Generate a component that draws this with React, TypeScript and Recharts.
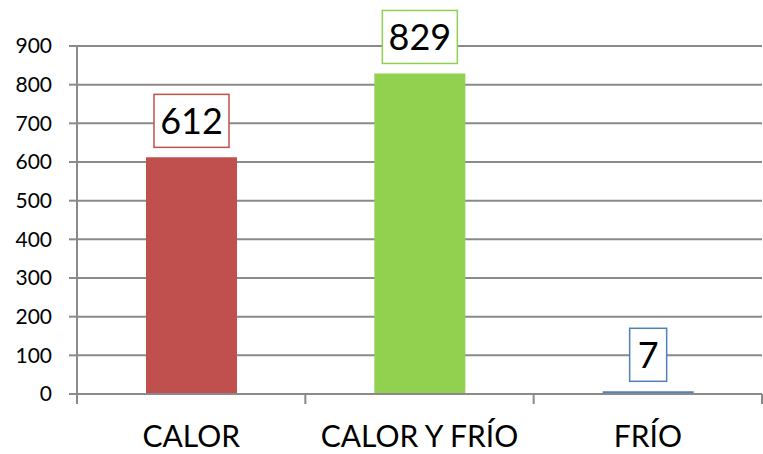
import { Bar, BarChart, CartesianGrid, Cell, LabelList, XAxis, YAxis } from "recharts";

const categories = ["CALOR", "CALOR Y FRÍO", "FRÍO"];
const counts = [612, 829, 7];
const barColors = ["#C0504D", "#92D050", "#4F81BD"];
const yTicks = [0, 100, 200, 300, 400, 500, 600, 700, 800, 900];

const rows = categories.map((name, i) => ({ name, value: counts[i], color: barColors[i] }));

const font = "Lato, 'Open Sans', sans-serif";
const gridColor = "#8A8A8A";

function CategoryTick(props: any) {
  const { x, y, payload, index } = props;
  const half = payload?.offset || 114;
  const last = index === categories.length - 1;
  return (
    <g>
      <line x1={x - half} x2={x - half} y1={y} y2={y + 10} stroke={gridColor} strokeWidth={2} />
      {last && <line x1={x + half} x2={x + half} y1={y} y2={y + 10} stroke={gridColor} strokeWidth={2} />}
      <text x={x} y={y + 53} textAnchor="middle" fontFamily={font} fontSize={30} fill="#000">
        {payload.value}
      </text>
    </g>
  );
}

function BoxLabel(props: any) {
  const { x, y, width, value, index } = props;
  const digits = String(value).length;
  const boxW = digits * 19 + 18;
  const boxH = 53;
  const cx = x + width / 2;
  const bottom = y - 10;
  return (
    <g>
      <rect
        x={cx - boxW / 2}
        y={bottom - boxH}
        width={boxW}
        height={boxH}
        fill="#fff"
        stroke={barColors[index]}
        strokeWidth={1.5}
      />
      <text x={cx} y={bottom - 13} textAnchor="middle" fontFamily={font} fontSize={36} fill="#000">
        {value}
      </text>
    </g>
  );
}

export default function App() {
  return (
    <div style={{ position: "absolute", left: 0, top: 0, background: "#fff" }}>
      <BarChart width={763} height={454} data={rows} margin={{ top: 46, right: 1, left: 0, bottom: 0 }}>
        <CartesianGrid vertical={false} stroke={gridColor} strokeWidth={2} />
        <XAxis
          dataKey="name"
          height={60}
          axisLine={{ stroke: gridColor, strokeWidth: 2 }}
          tickLine={false}
          tickSize={0}
          tickMargin={0}
          tick={<CategoryTick />}
          interval={0}
        />
        <YAxis
          width={77}
          domain={[0, 900]}
          ticks={yTicks}
          interval={0}
          axisLine={{ stroke: gridColor, strokeWidth: 2 }}
          tickLine={{ stroke: gridColor, strokeWidth: 2 }}
          tickSize={8}
          tickMargin={17}
          tick={{ fontFamily: font, fontSize: 21, fill: "#000" }}
        />
        <Bar dataKey="value" barSize={91} isAnimationActive={false}>
          {rows.map((r) => (
            <Cell key={r.name} fill={r.color} />
          ))}
          <LabelList dataKey="value" content={<BoxLabel />} />
        </Bar>
      </BarChart>
    </div>
  );
}
